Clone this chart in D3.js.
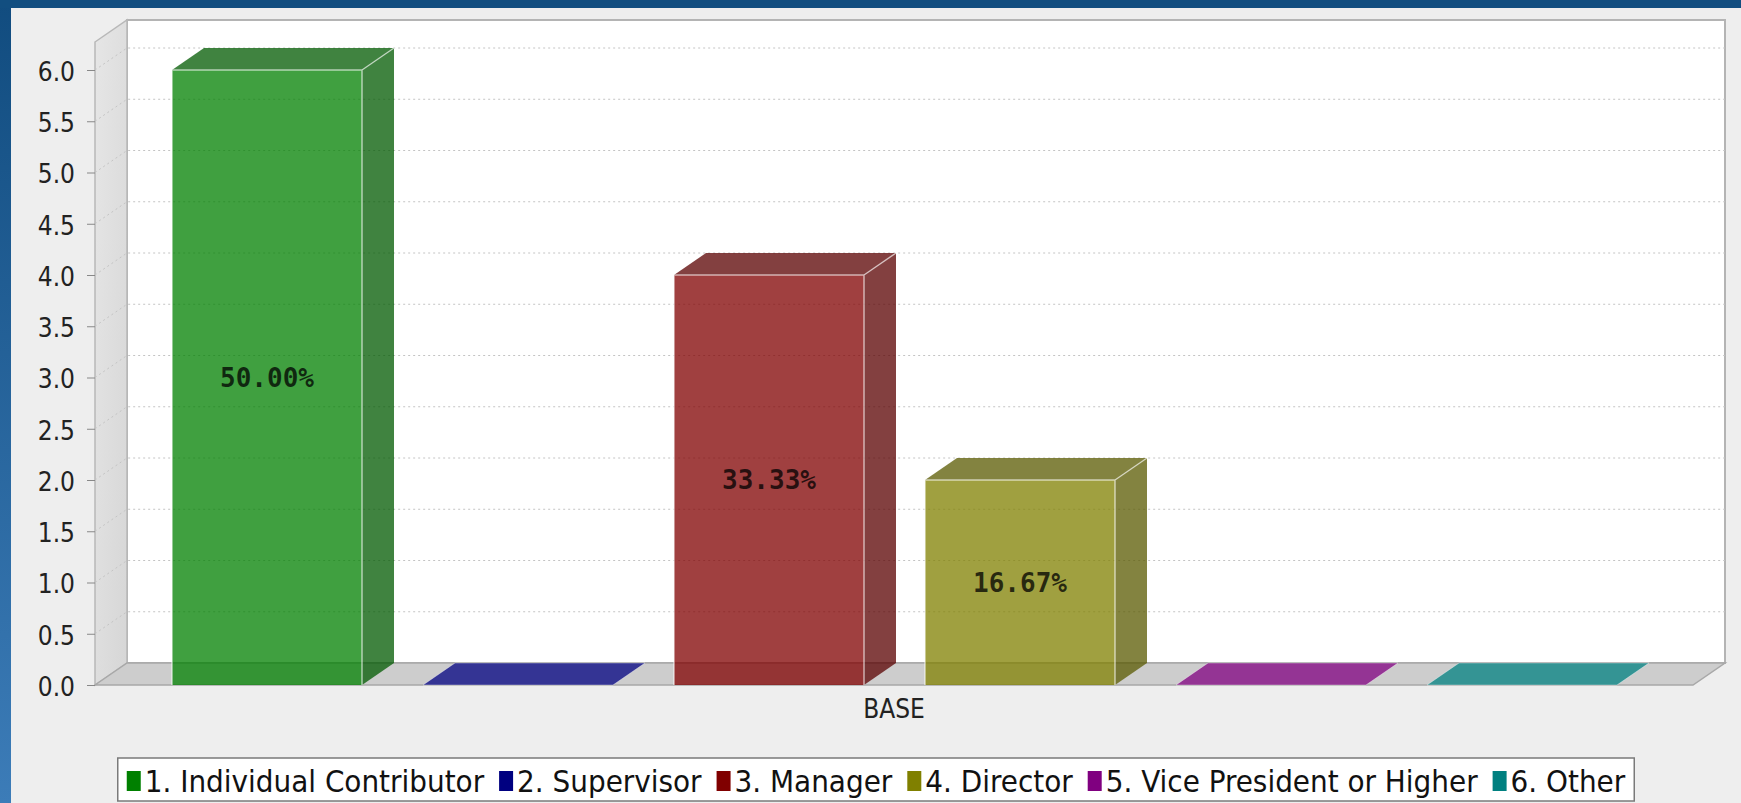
<!DOCTYPE html>
<html><head><meta charset="utf-8">
<script src="https://cdn.jsdelivr.net/npm/d3@7"></script>
<style>html,body{margin:0;padding:0;background:#eeeeee;overflow:hidden}</style>
</head><body><svg id="chart" width="1741" height="803"></svg>
<script>
// ---------------- data ----------------
const categories = ["BASE"];
const seriesNames = ["1. Individual Contributor", "2. Supervisor", "3. Manager", "4. Director", "5. Vice President or Higher", "6. Other"];
const seriesValues = [6, 0, 4, 2, 0, 0];
const valueLabels = ["50.00%", "", "33.33%", "16.67%", "", ""];
const yTicks = [0, 0.5, 1, 1.5, 2, 2.5, 3, 3.5, 4, 4.5, 5, 5.5, 6];
const yTickLabels = ["0.0", "0.5", "1.0", "1.5", "2.0", "2.5", "3.0", "3.5", "4.0", "4.5", "5.0", "5.5", "6.0"];

// ---------------- style ----------------
const seriesColors = ["#008000", "#000080", "#800000", "#808000", "#800080", "#008080"];
const W = 1741, H = 803;
const front = {l: 95, r: 1693, t: 42, b: 685};
const dx = 32, dy = 22;
const axisFont = "'DejaVu Sans Condensed', 'DejaVu Sans', sans-serif";

const svg = d3.select("#chart");
const defs = svg.append("defs");
const bg = defs.append("linearGradient").attr("id", "blueGrad").attr("x1", 0).attr("y1", 0).attr("x2", 0).attr("y2", 1);
bg.append("stop").attr("offset", "0%").attr("stop-color", "#114c7f");
bg.append("stop").attr("offset", "100%").attr("stop-color", "#3c7cb8");
const wg = defs.append("linearGradient").attr("id", "wallGrad").attr("x1", 0).attr("y1", 0).attr("x2", 1).attr("y2", 1);
wg.append("stop").attr("offset", "0%").attr("stop-color", "#e6e6e6");
wg.append("stop").attr("offset", "100%").attr("stop-color", "#d6d6d6");

// frame
svg.append("rect").attr("width", W).attr("height", H).attr("fill", "#eeeeee");
svg.append("rect").attr("x", 0).attr("y", 0).attr("width", 11).attr("height", H).attr("fill", "url(#blueGrad)");
svg.append("rect").attr("x", 0).attr("y", 0).attr("width", W).attr("height", 8).attr("fill", "#124e80");

// scales
const y = d3.scaleLinear().domain([0, 6]).range([685, 70]);
const x0 = d3.scaleBand().domain(categories).range([front.l, front.r]).padding(0);
const catMarginL = 77, catMarginR = 76;
const x1 = d3.scaleBand().domain(seriesNames)
  .range([catMarginL, x0.bandwidth() - catMarginR])
  .paddingInner(0.243).paddingOuter(0);

const plot = svg.append("g");

// back wall
plot.append("rect").attr("x", front.l + dx).attr("y", front.t - dy)
  .attr("width", front.r - front.l).attr("height", front.b - front.t)
  .attr("fill", "#ffffff").attr("stroke", "#b4b4b4").attr("stroke-width", 2);
// left wall
plot.append("polygon")
  .attr("points", [[front.l, front.t], [front.l + dx, front.t - dy], [front.l + dx, front.b - dy], [front.l, front.b]].join(" "))
  .attr("fill", "url(#wallGrad)").attr("stroke", "#b8b8b8").attr("stroke-width", 1.5);
// floor
plot.append("polygon")
  .attr("points", [[front.l, front.b], [front.l + dx, front.b - dy], [front.r + dx, front.b - dy], [front.r, front.b]].join(" "))
  .attr("fill", "#cdcdcd").attr("stroke", "#a8a8a8").attr("stroke-width", 1.5);

// gridlines
plot.append("g").selectAll("path").data(yTicks.filter(d => d > 0)).join("path")
  .attr("d", d => `M${front.l},${y(d)}L${front.l + dx},${y(d) - dy}L${front.r + dx},${y(d) - dy}`)
  .attr("fill", "none").attr("stroke", "#c4c4c4").attr("stroke-width", 1).attr("stroke-dasharray", "2,3");

// y axis
const yAxis = d3.axisLeft(y).tickValues(yTicks).tickFormat((d, i) => yTickLabels[i]).tickSize(8).tickPadding(12);
const ya = svg.append("g").attr("transform", `translate(${front.l},0)`).call(yAxis);
ya.select(".domain").remove();
ya.selectAll(".tick line").attr("stroke", "#888");
ya.selectAll(".tick text").attr("font-family", axisFont).attr("font-size", 26).attr("fill", "#222").attr("dy", "0.4em");

// category axis
const xAxis = d3.axisBottom(x0).tickSize(0).tickPadding(15);
const xa = svg.append("g").attr("transform", `translate(0,${front.b})`).call(xAxis);
xa.select(".domain").remove();
xa.selectAll(".tick text").attr("font-family", axisFont).attr("font-size", 26).attr("fill", "#222");

// bars
const darker = c => { const k = d3.rgb(c); return d3.rgb(k.r * 0.7, k.g * 0.7, k.b * 0.7).formatHex(); };
const barsG = plot.append("g");
seriesNames.forEach((name, i) => {
  const v = seriesValues[i];
  const xb = x0(categories[0]) + x1(name), w = x1.bandwidth();
  const yv = y(v), yb = y(0);
  const g = barsG.append("g");
  const col = seriesColors[i];
  if (v > 0) {
    g.append("rect").attr("x", xb).attr("y", yv).attr("width", w).attr("height", yb - yv)
      .attr("fill", col).attr("fill-opacity", 0.75);
    g.append("polygon").attr("points", [[xb + w, yv], [xb + w + dx, yv - dy], [xb + w + dx, yb - dy], [xb + w, yb]].join(" "))
      .attr("fill", darker(col)).attr("fill-opacity", 0.75);
    g.append("polygon").attr("points", [[xb, yv], [xb + dx, yv - dy], [xb + w + dx, yv - dy], [xb + w, yv]].join(" "))
      .attr("fill", darker(col)).attr("fill-opacity", 0.75);
    g.append("path").attr("d", `M${xb},${yb}L${xb},${yv}L${xb + w},${yv}L${xb + w},${yb}M${xb + w},${yv}L${xb + w + dx},${yv - dy}`)
      .attr("fill", "none").attr("stroke", "#ffffff").attr("stroke-opacity", 0.6).attr("stroke-width", 1.5);
    g.append("text").attr("x", xb + w / 2).attr("y", (yv + yb) / 2)
      .attr("text-anchor", "middle").attr("dominant-baseline", "central")
      .attr("font-family", "'DejaVu Sans Mono', monospace").attr("font-weight", "bold").attr("font-size", 26)
      .attr("fill", "#000").attr("fill-opacity", 0.75).text(valueLabels[i]);
  } else {
    g.append("polygon").attr("points", [[xb, yb], [xb + dx, yb - dy], [xb + w + dx, yb - dy], [xb + w, yb]].join(" "))
      .attr("fill", col).attr("fill-opacity", 0.75)
      .attr("stroke", "#ffffff").attr("stroke-opacity", 0.4).attr("stroke-width", 1);
  }
});

// legend
const legend = svg.append("g");
const lgBox = legend.append("rect");
const items = legend.append("g");
const swW = 14, swH = 20, swGap = 4, itemGap = 15, pad = 9, legendCY = 781;
let cx = 0;
seriesNames.forEach((name, i) => {
  const it = items.append("g").attr("transform", `translate(${cx},0)`);
  it.append("rect").attr("x", 0).attr("y", legendCY - swH / 2).attr("width", swW).attr("height", swH).attr("fill", seriesColors[i]);
  const t = it.append("text").attr("x", swW + swGap).attr("y", legendCY).attr("dominant-baseline", "central")
    .attr("font-family", axisFont).attr("font-size", 31).attr("fill", "#111").text(name);
  cx += swW + swGap + t.node().getComputedTextLength() + itemGap;
});
const totalW = cx - itemGap;
const legendCX = (11 + W) / 2;
const lx = legendCX - totalW / 2;
items.attr("transform", `translate(${lx},0)`);
lgBox.attr("x", lx - pad).attr("y", 758).attr("width", totalW + 2 * pad).attr("height", 43)
  .attr("fill", "#ffffff").attr("stroke", "#7a7a7a").attr("stroke-width", 1.5);
</script>
</body></html>
